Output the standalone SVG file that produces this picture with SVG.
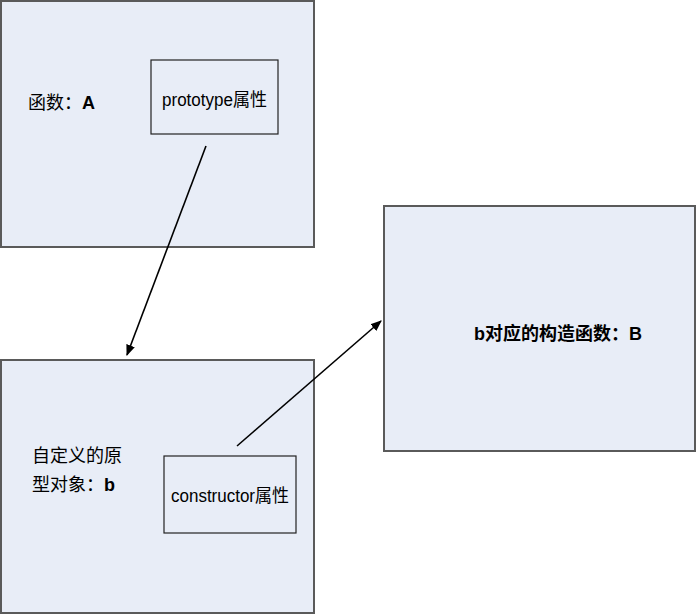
<svg xmlns="http://www.w3.org/2000/svg" width="699" height="614" viewBox="0 0 699 614">
<defs>
<style>
.big{fill:#e8edf7;stroke:#5a5a5a;stroke-width:2}
.small{fill:#e8edf7;stroke:#222;stroke-width:1.2}
text{font-family:"Liberation Sans","Noto Sans CJK SC",sans-serif;font-size:18px;fill:#000}
.b{font-weight:bold}
.con{stroke:#000;stroke-width:1.6;fill:none;marker-end:url(#ah)}
</style>
<marker id="ah" viewBox="0 0 10 10" refX="9" refY="5" markerWidth="7" markerHeight="7" orient="auto"><path d="M0,1 L10,5 L0,9 z" fill="#000"/></marker>
</defs>
<rect width="699" height="614" fill="#fff"/>
<g id="nodeA">
<rect class="big" x="1" y="1" width="313" height="246"/>
<text x="28" y="109" font-size="16">函数：<tspan class="b">A</tspan></text>
</g>
<g id="protoProp">
<rect class="small" x="151" y="60" width="127" height="74"/>
<text x="162" y="106" textLength="105" lengthAdjust="spacingAndGlyphs">prototype属性</text>
</g>
<g id="nodeb">
<rect class="big" x="1" y="360" width="313" height="253"/>
<text x="32" y="462" font-size="16">自定义的原</text>
<text x="32" y="491" font-size="16">型对象：<tspan class="b" font-size="18">b</tspan></text>
</g>
<g id="ctorProp">
<rect class="small" x="164" y="456" width="132" height="77"/>
<text x="171" y="502" textLength="118" lengthAdjust="spacingAndGlyphs">constructor属性</text>
</g>
<g id="nodeB">
<rect class="big" x="384" y="206" width="311" height="245"/>
<text x="474" y="340" font-size="16" class="b">b对应的构造函数：B</text>
</g>
<g id="connectors">
<line class="con" x1="206" y1="146" x2="127" y2="355"/>
<line class="con" x1="237" y1="446" x2="381" y2="321"/>
</g>
</svg>
